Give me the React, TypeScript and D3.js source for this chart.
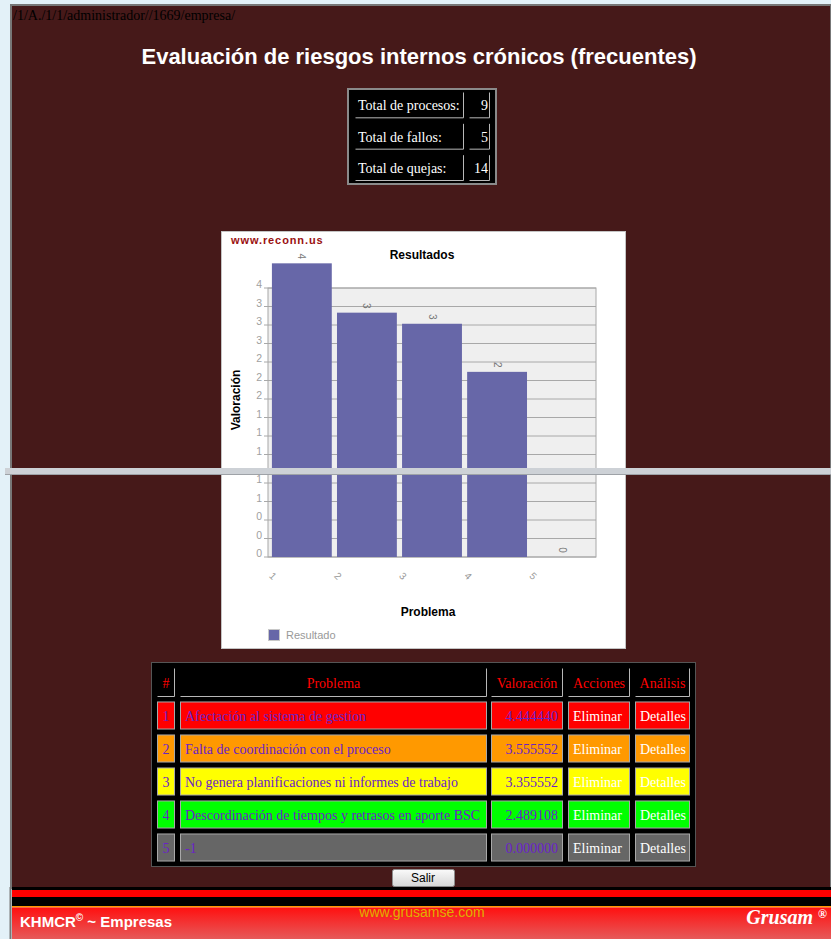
import React, { useEffect, useRef } from 'react';
import * as d3 from 'd3';

// page texts
const pathText = '/1/A./1/1/administrador//1669/empresa/';
const pageTitle = 'Evaluación de riesgos internos crónicos (frecuentes)';

// summary box
const statLabels = ['Total de procesos:', 'Total de fallos:', 'Total de quejas:'];
const statValues = ['9', '5', '14'];

// chart data
const problemIds = ['1', '2', '3', '4', '5'];
const valuations = [4.44444, 3.555552, 3.355552, 2.489108, 0];
const barLabels = ['4', '3', '3', '2', '0'];
const yTickValues = [0, 1 / 3, 2 / 3, 1, 4 / 3, 5 / 3, 2, 7 / 3, 8 / 3, 3, 10 / 3, 11 / 3, 4];
const yTickLabels = ['0', '0', '0', '1', '1', '1', '2', '2', '2', '3', '3', '3', '4'];

// table data
const tableHeaders = ['#', 'Problema', 'Valoración', 'Acciones', 'Análisis'];
const problemNames = [
  'Afectación al sistema de gestion',
  'Falta de coordinación con el proceso',
  'No genera planificaciones ni informes de trabajo',
  'Descordinación de tiempos y retrasos en aporte BSC',
  '-1',
];
const valuationLabels = ['4.444440', '3.555552', '3.355552', '2.489108', '0.000000'];

const rowColors = ['#ff0000', '#ff9900', '#ffff00', '#00ff00', '#666666'];

const W = 831;
const H = 939;
const SANS = 'Liberation Sans, Arial, sans-serif';
const SERIF = 'Liberation Serif, Times New Roman, serif';
const MAROON = '#461919';
const PURPLE = '#6a22c8';
const SHIFT = 47; // the picture is stitched: lower part is offset
const SEAM_TOP = 469;
const SEAM_BOT = 474;

// draws the chart; `shows(y)` tells whether a text at chart y is visible in this copy
function drawChart(g: any, shows: (y: number) => boolean) {
  const left = 268, right = 596, top = 288, bottom = 510;

  g.append('rect')
    .attr('x', 221.5).attr('y', 231.5)
    .attr('width', 404).attr('height', 370)
    .attr('fill', '#fff').attr('stroke', '#c4c4c4');

  if (shows(240)) {
    g.append('text')
      .attr('x', 231).attr('y', 244)
      .attr('font-family', SANS).attr('font-size', 11).attr('font-weight', 'bold')
      .attr('letter-spacing', 0.9).attr('fill', '#9a1010')
      .text('www.reconn.us');

    g.append('text')
      .attr('x', 422).attr('y', 259).attr('text-anchor', 'middle')
      .attr('font-family', SANS).attr('font-size', 12).attr('font-weight', 'bold')
      .text('Resultados');
  }

  const y = d3.scaleLinear().domain([0, 4]).range([bottom, top]);
  const x = d3.scaleBand().domain(problemIds).range([left, right])
    .paddingInner(0.08).paddingOuter(0.06);

  g.append('rect')
    .attr('x', left).attr('y', top)
    .attr('width', right - left).attr('height', bottom - top)
    .attr('fill', '#efefef').attr('stroke', '#a8a8a8');

  g.append('g').selectAll('line')
    .data(yTickValues).enter()
    .append('line')
    .attr('x1', left - 4).attr('x2', right)
    .attr('y1', (d: number) => y(d)).attr('y2', (d: number) => y(d))
    .attr('stroke', '#a8a8a8');

  const ticks = yTickValues.map((v, i) => ({ v, label: yTickLabels[i] }))
    .filter(t => shows(y(t.v) - 4));
  g.append('g').selectAll('text')
    .data(ticks).enter()
    .append('text')
    .attr('x', left - 6).attr('y', (d: any) => y(d.v))
    .attr('text-anchor', 'end')
    .attr('font-family', SANS).attr('font-size', 10.5).attr('fill', '#a0a0a0')
    .text((d: any) => d.label);

  g.append('g').selectAll('rect')
    .data(valuations).enter()
    .append('rect')
    .attr('x', (d: number, i: number) => x(problemIds[i]) as number)
    .attr('y', (d: number) => y(d))
    .attr('width', x.bandwidth())
    .attr('height', (d: number) => bottom - y(d))
    .attr('fill', '#6767a8');

  const bars = valuations.map((v, i) => ({ v, id: problemIds[i], label: barLabels[i] }))
    .filter(b => shows(y(b.v) - 7));
  g.append('g').selectAll('text')
    .data(bars).enter()
    .append('text')
    .attr('transform', (d: any) =>
      `translate(${(x(d.id) as number) + x.bandwidth() / 2},${y(d.v) - 7}) rotate(90)`)
    .attr('text-anchor', 'middle').attr('dy', '0.35em')
    .attr('font-family', SANS).attr('font-size', 10).attr('fill', '#777')
    .text((d: any) => d.label);

  if (shows(529)) {
    g.append('g').selectAll('text')
      .data(problemIds).enter()
      .append('text')
      .attr('transform', (d: string) => `translate(${(x(d) as number) + 1},${529}) rotate(45)`)
      .attr('text-anchor', 'middle').attr('dy', '0.35em')
      .attr('font-family', SANS).attr('font-size', 10).attr('fill', '#999')
      .text((d: string) => d);

    g.append('text')
      .attr('x', 428).attr('y', 569).attr('text-anchor', 'middle')
      .attr('font-family', SANS).attr('font-size', 12).attr('font-weight', 'bold')
      .text('Problema');

    // legend
    g.append('rect')
      .attr('x', 268.5).attr('y', 582.5).attr('width', 11).attr('height', 11)
      .attr('fill', '#6767a8').attr('stroke', '#c8c8c8');
    g.append('text')
      .attr('x', 286).attr('y', 592)
      .attr('font-family', SANS).attr('font-size', 11).attr('fill', '#999')
      .text('Resultado');
  }

  if (shows(400)) {
    g.append('text')
      .attr('transform', 'translate(240,400) rotate(-90)')
      .attr('text-anchor', 'middle')
      .attr('font-family', SANS).attr('font-size', 12).attr('font-weight', 'bold')
      .text('Valoración');
  }
}

export default function App() {
  const ref = useRef<SVGSVGElement>(null);

  useEffect(() => {
    const svg = d3.select(ref.current);
    svg.selectAll('*').remove();

    const defs = svg.append('defs');
    defs.append('clipPath').attr('id', 'clipTop')
      .append('rect').attr('x', 0).attr('y', 0).attr('width', W).attr('height', SEAM_TOP);
    defs.append('clipPath').attr('id', 'clipBottom')
      .append('rect').attr('x', 0).attr('y', SEAM_BOT).attr('width', W).attr('height', H - SEAM_BOT);
    const grad = defs.append('linearGradient').attr('id', 'footGrad')
      .attr('x1', 0).attr('x2', 0).attr('y1', 0).attr('y2', 1);
    grad.append('stop').attr('offset', '0%').attr('stop-color', '#ff1010');
    grad.append('stop').attr('offset', '100%').attr('stop-color', '#e65a5a');
    const btn = defs.append('linearGradient').attr('id', 'btnGrad')
      .attr('x1', 0).attr('x2', 0).attr('y1', 0).attr('y2', 1);
    btn.append('stop').attr('offset', '0%').attr('stop-color', '#fafafa');
    btn.append('stop').attr('offset', '100%').attr('stop-color', '#d6d6d6');

    /* page frame */
    svg.append('rect').attr('width', W).attr('height', H).attr('fill', '#e3f1f8');
    svg.append('rect')
      .attr('x', 11).attr('y', 5).attr('width', W - 11).attr('height', 883)
      .attr('fill', MAROON).attr('stroke', '#777').attr('stroke-width', 2);

    svg.append('text')
      .attr('x', 13).attr('y', 20)
      .attr('font-family', SERIF).attr('font-size', 14).attr('fill', '#000')
      .text(pathText);

    svg.append('text')
      .attr('x', 419).attr('y', 64).attr('text-anchor', 'middle')
      .attr('font-family', SANS).attr('font-size', 22).attr('font-weight', 'bold')
      .attr('fill', '#fff')
      .text(pageTitle);

    /* summary box */
    const stats = svg.append('g');
    stats.append('rect')
      .attr('x', 348).attr('y', 89).attr('width', 148).attr('height', 95)
      .attr('fill', '#000').attr('stroke', '#8a8a8a').attr('stroke-width', 2);
    const statRow = d3.scaleBand().domain(statLabels).range([92, 181]).paddingInner(0.16);
    const statCols = [[355, 109], [469, 21]];
    statLabels.forEach((lab, i) => {
      const ty = statRow(lab) as number;
      const h = statRow.bandwidth();
      statCols.forEach(([cx, cw], j) => {
        stats.append('path')
          .attr('d', `M${cx + 0.5},${ty + h - 0.5}H${cx + cw - 0.5}V${ty + 0.5}`)
          .attr('fill', 'none').attr('stroke', '#b8b8b8');
        stats.append('text')
          .attr('x', j === 0 ? cx + 3 : cx + cw - 2).attr('y', ty + h / 2 + 5)
          .attr('text-anchor', j === 0 ? 'start' : 'end')
          .attr('font-family', SERIF).attr('font-size', 14).attr('fill', '#fff')
          .text(j === 0 ? lab : statValues[i]);
      });
    });

    /* chart, split by the screenshot seam */
    const topPart = svg.append('g').attr('clip-path', 'url(#clipTop)').append('g');
    drawChart(topPart, yy => yy < SEAM_TOP);
    const bottomPart = svg.append('g').attr('clip-path', 'url(#clipBottom)')
      .append('g').attr('transform', `translate(0,${SHIFT})`);
    drawChart(bottomPart, yy => yy + SHIFT > SEAM_BOT + 4);

    svg.append('rect')
      .attr('x', 5).attr('y', SEAM_TOP - 1).attr('width', W - 5).attr('height', SEAM_BOT - SEAM_TOP + 1)
      .attr('fill', '#cdd1d6');
    svg.append('line')
      .attr('x1', 5).attr('x2', W).attr('y1', SEAM_BOT + 0.5).attr('y2', SEAM_BOT + 0.5)
      .attr('stroke', '#9ea2a7');

    /* problems table */
    const table = svg.append('g');
    table.append('rect')
      .attr('x', 151.5).attr('y', 662.5).attr('width', 544).attr('height', 204)
      .attr('fill', '#000').attr('stroke', '#555');
    const colX = [157, 180, 491, 568, 635];
    const colW = [18, 307, 72, 62, 55];
    tableHeaders.forEach((hd, j) => {
      table.append('path')
        .attr('d', `M${colX[j] + 0.5},${696.5}H${colX[j] + colW[j] - 0.5}V${668.5}`)
        .attr('fill', 'none').attr('stroke', '#b8b8b8');
      table.append('text')
        .attr('x', colX[j] + colW[j] / 2).attr('y', 688).attr('text-anchor', 'middle')
        .attr('font-family', SERIF).attr('font-size', 14).attr('fill', '#ff0000')
        .text(hd);
    });

    const rowY = d3.scaleBand().domain(problemIds).range([699, 864])
      .paddingInner(0.15).paddingOuter(0.075);
    problemIds.forEach((id, i) => {
      const ty = rowY(id) as number;
      const h = rowY.bandwidth();
      const cells = [id, problemNames[i], valuationLabels[i], 'Eliminar', 'Detalles'];
      cells.forEach((txt, j) => {
        table.append('rect')
          .attr('x', colX[j] + 0.5).attr('y', ty + 0.5)
          .attr('width', colW[j] - 1).attr('height', h - 1)
          .attr('fill', rowColors[i]).attr('stroke', '#a8a8a8');
        const anchor = j === 0 ? 'middle' : j === 2 ? 'end' : 'start';
        const tx = j === 0 ? colX[j] + colW[j] / 2 : j === 2 ? colX[j] + colW[j] - 5 : colX[j] + 5;
        table.append('text')
          .attr('x', tx).attr('y', ty + h / 2 + 5).attr('text-anchor', anchor)
          .attr('font-family', SERIF).attr('font-size', 14)
          .attr('fill', j >= 3 ? '#fff' : PURPLE)
          .text(txt);
      });
    });

    /* Salir button */
    svg.append('rect')
      .attr('x', 392.5).attr('y', 869.5).attr('width', 62).attr('height', 17).attr('rx', 2)
      .attr('fill', 'url(#btnGrad)').attr('stroke', '#8c8c8c');
    svg.append('text')
      .attr('x', 423).attr('y', 882).attr('text-anchor', 'middle')
      .attr('font-family', SANS).attr('font-size', 12).attr('fill', '#000')
      .text('Salir');

    /* footer */
    const foot = svg.append('g');
    foot.append('rect').attr('x', 12).attr('y', 887).attr('width', W - 12).attr('height', 3).attr('fill', '#000');
    foot.append('rect').attr('x', 12).attr('y', 890).attr('width', W - 12).attr('height', 7).attr('fill', '#ff0000');
    foot.append('rect').attr('x', 12).attr('y', 897).attr('width', W - 12).attr('height', 9).attr('fill', '#000');
    foot.append('rect').attr('x', 12).attr('y', 906).attr('width', W - 12).attr('height', 1.5).attr('fill', '#ff9900');
    foot.append('rect').attr('x', 12).attr('y', 907.5).attr('width', W - 12).attr('height', H - 907.5).attr('fill', 'url(#footGrad)');
    foot.append('line').attr('x1', 10.5).attr('x2', 10.5).attr('y1', 887).attr('y2', H).attr('stroke', '#777').attr('stroke-width', 2);

    const k = foot.append('text')
      .attr('x', 20).attr('y', 927)
      .attr('font-family', SANS).attr('font-size', 15).attr('font-weight', 'bold').attr('fill', '#fff');
    k.append('tspan').text('KHMCR');
    k.append('tspan').attr('font-size', 10).attr('dy', -6).text('©');
    k.append('tspan').attr('dy', 6).text(' ~ Empresas');

    foot.append('text')
      .attr('x', 422).attr('y', 917).attr('text-anchor', 'middle')
      .attr('font-family', SANS).attr('font-size', 14).attr('fill', '#e0b000')
      .text('www.grusamse.com');

    const gr = foot.append('text')
      .attr('x', 827).attr('y', 924).attr('text-anchor', 'end')
      .attr('font-family', SERIF).attr('font-size', 20).attr('font-weight', 'bold')
      .attr('font-style', 'italic').attr('fill', '#fff');
    gr.append('tspan').text('Grusam ');
    gr.append('tspan').attr('font-size', 12).attr('font-style', 'normal').attr('dy', -6).text('®');
  }, []);

  return (
    <svg
      ref={ref}
      width={W}
      height={H}
      style={{ position: 'absolute', left: 0, top: 0, display: 'block' }}
    />
  );
}
